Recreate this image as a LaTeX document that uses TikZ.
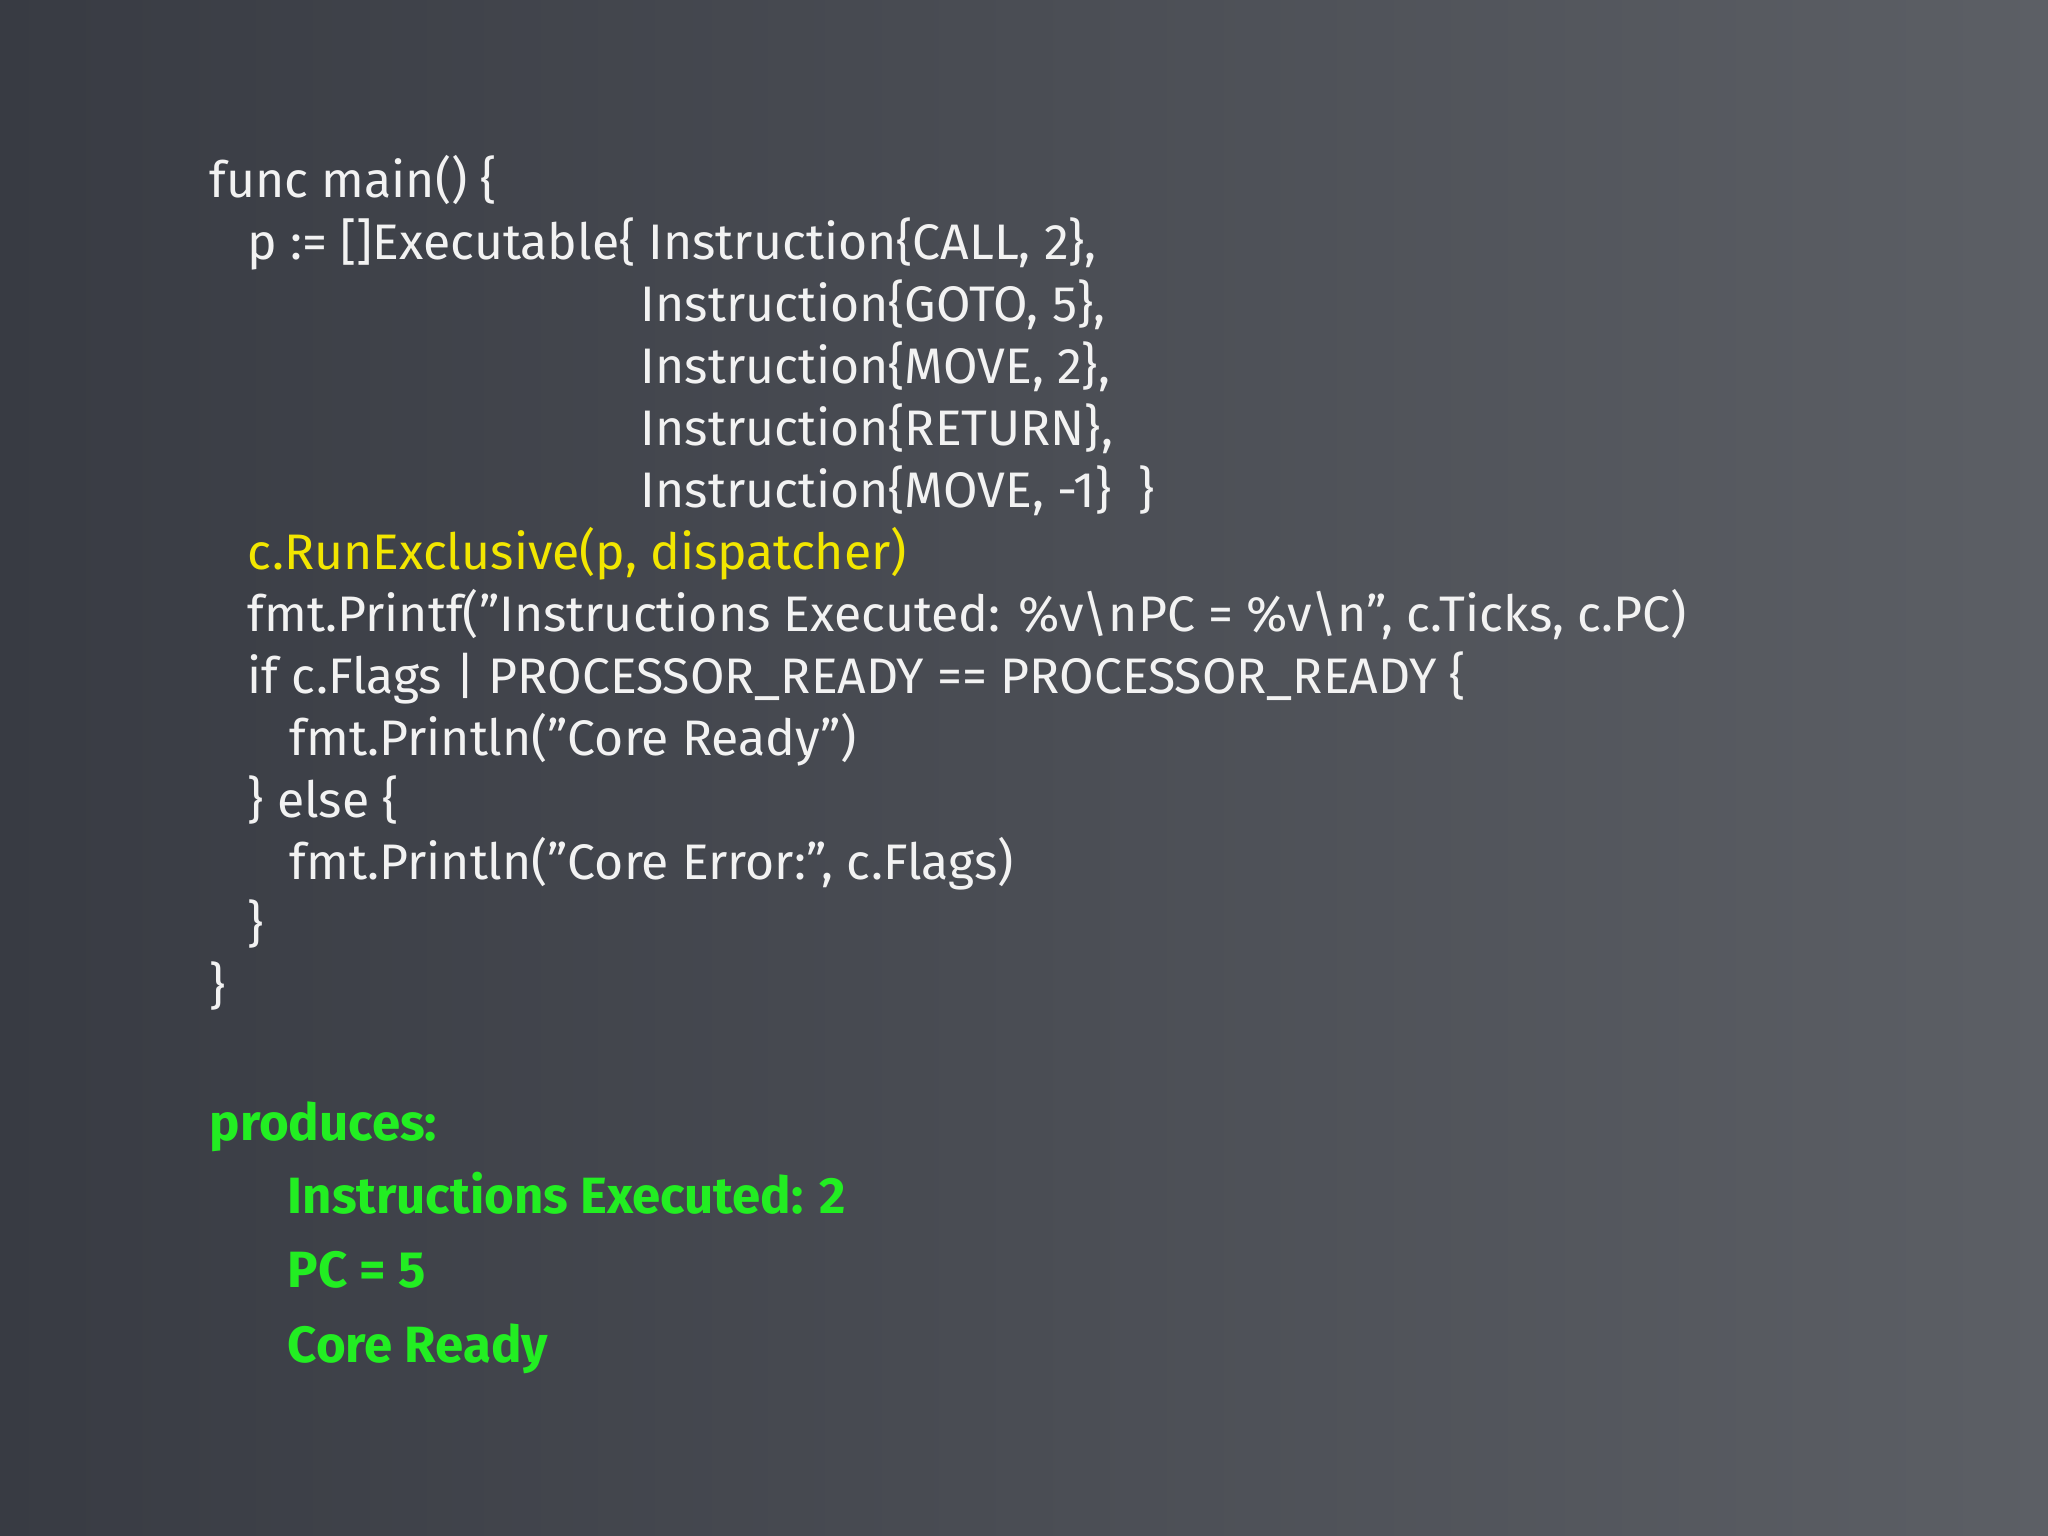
\documentclass[tikz,border=0pt]{standalone}
\usepackage{fontspec}
\setmainfont{Fira Sans}
\newcommand\dqm{{\char34}}
\definecolor{bgA}{HTML}{383B43}
\definecolor{bgB}{HTML}{5C5F65}
\definecolor{codew}{HTML}{F2F2F2}
\definecolor{codey}{HTML}{F2E600}
\definecolor{codeg}{HTML}{22EE22}
\tikzset{ln/.style={anchor=base west,inner sep=0pt,text=codew,font=\fontsize{14.2}{17}\selectfont},
 hl/.style={ln,text=codey},
 outline/.style={ln,text=codeg,font=\fontsize{14.5}{17}\selectfont\bfseries}}
\begin{document}
\begin{tikzpicture}[x=0.01cm,y=-0.01cm]
\shade[left color=bgA,right color=bgB] (0,0) rectangle (2048,1536);
\useasboundingbox (0,0) rectangle (2048,1536);
\node[ln] (l1) at (209,197) {func main() \{};
\node[ln] (l2) at (247,259) {p := []Executable\{ Instruction\{CALL, 2\},};
\node[ln] (l3) at (640,321) {Instruction\{GOTO, 5\},};
\node[ln] (l4) at (640,383) {Instruction\{MOVE, 2\},};
\node[ln] (l5) at (640,445) {Instruction\{RETURN\},};
\node[ln] (l6) at (640,507) {Instruction\{MOVE, -1\}~~\}};
\node[hl] (l7) at (247,569) {c.RunExclusive(p, dispatcher)};
\node[ln] (l8) at (247,631) {fmt.Printf(\dqm Instructions Executed: \%v\textbackslash nPC = \%v\textbackslash n\dqm, c.Ticks, c.PC)};
\node[ln] (l9) at (247,693) {if c.Flags | PROCESSOR\_READY == PROCESSOR\_READY \{};
\node[ln] (l10) at (289,755) {fmt.Println(\dqm Core Ready\dqm)};
\node[ln] (l11) at (247,817) {\} else \{};
\node[ln] (l12) at (289,879) {fmt.Println(\dqm Core Error:\dqm, c.Flags)};
\node[ln] (l13) at (247,941) {\}};
\node[ln] (l14) at (209,1003) {\}};
\node[outline] (p0) at (209,1140) {produces:};
\node[outline] (p1) at (287,1213) {Instructions Executed: 2};
\node[outline] (p2) at (287,1287) {PC = 5};
\node[outline] (p3) at (287,1362) {Core Ready};
\end{tikzpicture}
\end{document}
